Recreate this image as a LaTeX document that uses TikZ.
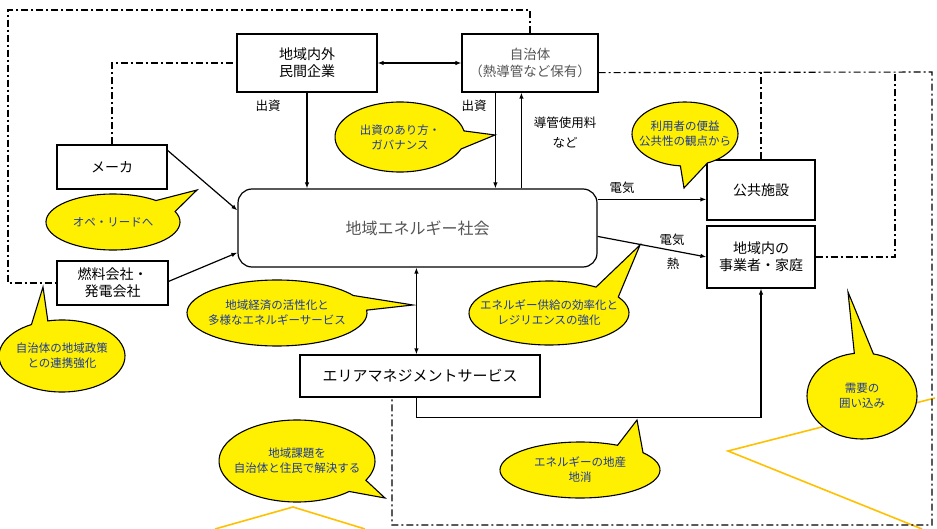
\documentclass[tikz,border=0pt]{standalone}
\usepackage{fontspec}
\setmainfont{Noto Sans CJK JP}
\usetikzlibrary{arrows.meta,calc}
\definecolor{byel}{HTML}{FFEF00}
\definecolor{btxt}{HTML}{1C3A9A}
\definecolor{orng}{HTML}{FFC000}
\definecolor{gtxt}{HTML}{555555}
\newcommand{\bubbleshape}[8]{%
  \filldraw[bub] (#7,#8) -- ([shift={(#1,#2)}]#5:#3 and #4)
    arc[start angle=#5, end angle={#5+360-#6}, x radius=#3, y radius=#4] -- cycle;}
\begin{document}
\begin{tikzpicture}[x=1pt,y=-1pt,
  box/.style={draw,line width=1.2pt,fill=white,inner sep=0pt,align=center,font=\fontsize{14}{17}\selectfont},
  conn/.style={line width=1.2pt,-{Latex[length=6pt,width=4.5pt]}},
  dconn/.style={line width=1.2pt,{Latex[length=6pt,width=4.5pt]}-{Latex[length=6pt,width=4.5pt]}},
  dd/.style={line width=1.1pt,dash pattern=on 7pt off 3pt on 2pt off 3pt},
  lbl/.style={font=\fontsize{12.5}{20}\selectfont,inner sep=1pt,align=center},
  btext/.style={text=btxt,align=center,font=\fontsize{11.5}{15}\selectfont,inner sep=0pt},
  bub/.style={fill=byel,draw=black,line width=1.1pt},
  orl/.style={draw=orng,line width=1.6pt}]
\useasboundingbox (0,0) rectangle (937,529);

% orange lines
\draw[orl] (215,529) -- (293,507) -- (365,529);
\draw[orl] (935,398) -- (728,451) -- (922,529);

% dash-dot corner points
\coordinate (dA) at (530,10);
\coordinate (dB) at (8,10);
\coordinate (dC) at (8,283);
\coordinate (dD) at (112,63);
\coordinate (dE) at (932,72);
\coordinate (dF) at (932,525);
\coordinate (dG) at (392,525);
\coordinate (dH) at (761,72);
\coordinate (dI) at (895,257);
\coordinate (dJ) at (895,72);

% boxes
\node[box,minimum width=140pt,minimum height=58pt] (comp) at (307,63) {地域内外\\民間企業};
\node[box,minimum width=136pt,minimum height=58pt,text=gtxt,font=\fontsize{13.5}{17}\selectfont] (gov) at (530,63) {自治体\\（熱導管など保有）};
\node[box,rounded corners=14pt,minimum width=359pt,minimum height=78pt,text=gtxt,font=\fontsize{16}{18}\selectfont] (soc) at (417.5,228) {地域エネルギー社会};
\node[box,minimum width=110pt,minimum height=44pt] (maker) at (112,167) {メーカ};
\node[box,minimum width=111pt,minimum height=44pt] (fuel) at (112.5,283) {燃料会社・\\発電会社};
\node[box,minimum width=108pt,minimum height=60pt] (pub) at (761,190) {公共施設};
\node[box,minimum width=108pt,minimum height=62pt] (home) at (761,257) {地域内の\\事業者・家庭};
\node[box,minimum width=240pt,minimum height=42pt,font=\fontsize{15}{17}\selectfont] (area) at (420,376) {エリアマネジメントサービス};

\draw[dd] (gov.north) -- (dA) -- (dB) -- (dC) -- (fuel.west);
\draw[dd] (maker.north) -- (dD) -- (comp.west);
\draw[dd] ($(gov.south east)+(0,-20)$) -- (dE) -- (dF) -- (dG) -- (area.south -| dG);
\draw[dd] (pub.north) -- (dH);
\draw[dd] (home.east |- dI) -- (dI) -- (dJ);

% connectors
\draw[dconn] (comp.east) -- (gov.west);
\draw[conn] (comp.south) -- (comp.south |- soc.north);
\coordinate (g1) at ($(gov.south west)+(34,0)$);
\draw[conn] (g1) -- (g1 |- soc.north);
\coordinate (g2) at ($(soc.north west)+(284,0)$);
\draw[conn] (g2) -- (g2 |- gov.south);
\coordinate (m1) at ($(maker.north east)+(0,6)$);
\draw[conn] (m1) -- ($(soc.north west)+(0,22)$);
\coordinate (f1) at ($(fuel.north east)+(0,21)$);
\draw[conn] (f1) -- ($(soc.south west)+(0,-15)$);
\coordinate (s1) at ($(soc.north east)+(0,11)$);
\draw[conn] (s1) -- (s1 -| pub.west);
\coordinate (s2) at ($(soc.north east)+(0,48)$);
\draw[conn] (s2) -- (home.west);
\coordinate (s3) at ($(soc.south west)+(179,0)$);
\draw[dconn] (s3) -- (s3 |- area.north);
\coordinate (a1) at (area.south -| s3);
\coordinate (a2) at ($(a1)+(0,20)$);
\draw[conn] (a1) -- (a2) -- (a2 -| dH) -- (home.south -| dH);

% labels
\node[lbl] (l1) at (268,106) {出資};
\node[lbl] (l2) at (474,106) {出資};
\node[lbl] (l3) at (565,133) {導管使用料\\など};
\node[lbl] (l4) at (622,188) {電気};
\node[lbl] (l5) at (672,240) {電気};
\node[lbl] (l6) at (673,264) {熱};

% bubbles
\bubbleshape{400}{137}{65}{35}{20}{30}{495}{135}
\node[btext] (b1) at (400,137) {出資のあり方・\\ガバナンス};
\bubbleshape{113}{222}{67}{28}{-22}{28}{197}{190}
\node[btext] (b2) at (113,222) {オペ・リードへ};
\bubbleshape{62}{356}{63}{36}{257}{16}{43}{287}
\node[btext] (b3) at (62,356) {自治体の地域政策\\との連携強化};
\bubbleshape{685}{134}{53}{32}{95}{30}{684}{188}
\node[btext] (b4) at (685,134) {利用者の便益\\公共性の観点から};
\bubbleshape{277}{313}{90}{33}{-5}{27}{413}{305}
\node[btext] (b5) at (277,313) {地域経済の活性化と\\多様なエネルギーサービス};
\bubbleshape{549}{313}{80}{32}{-30}{24}{640}{245}
\node[btext] (b6) at (549,313) {エネルギー供給の効率化と\\レジリエンスの強化};
\bubbleshape{297}{461}{78}{41}{48}{20}{385}{498}
\node[btext] (b7) at (297,461) {地域課題を\\自治体と住民で解決する};
\bubbleshape{580}{470}{80}{28}{-38}{24}{637}{420}
\node[btext] (b8) at (580,470) {エネルギーの地産\\地消};
\bubbleshape{862}{396}{55}{43}{282}{20}{848}{292}
\node[btext] (b9) at (862,396) {需要の\\囲い込み};
\end{tikzpicture}
\end{document}
